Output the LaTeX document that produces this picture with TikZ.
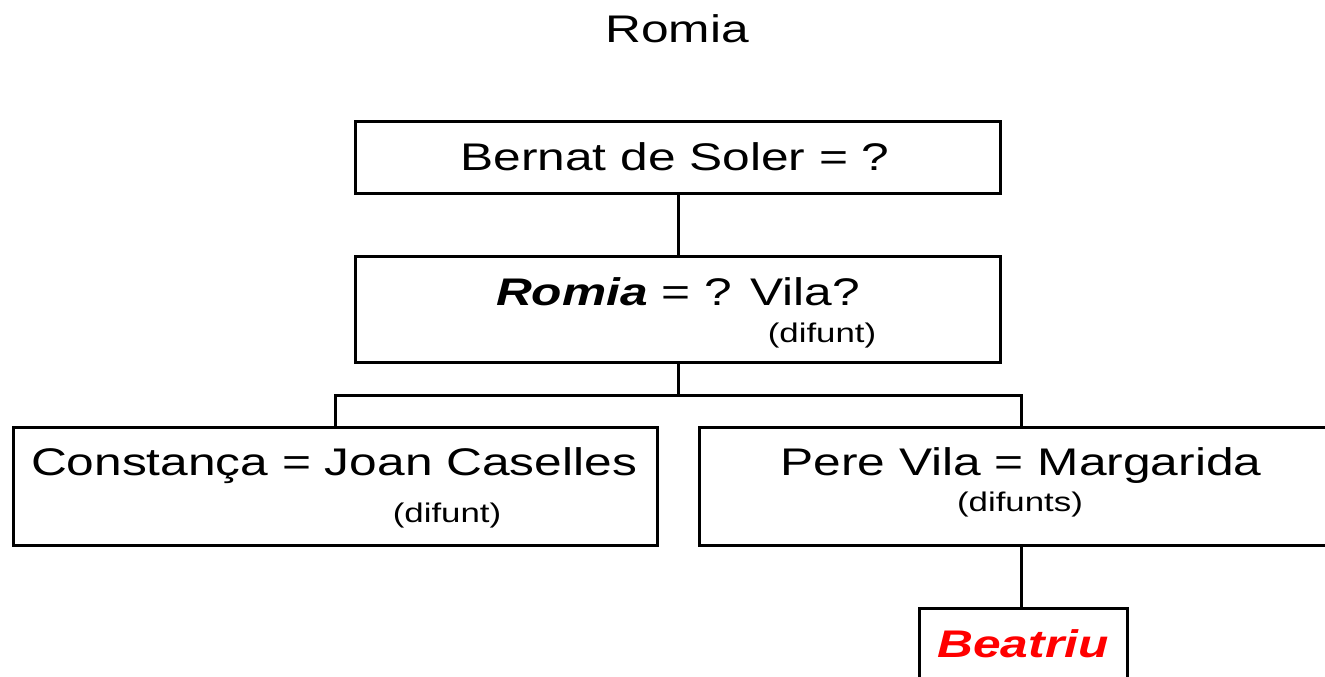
\documentclass[tikz,border=0pt]{standalone}
\usepackage{fontspec}
\setmainfont{Liberation Sans}[FakeStretch=1.29]
\definecolor{namered}{RGB}{255,0,0}
\begin{document}
\begin{tikzpicture}[x=1pt,y=-1pt,
  box/.style={draw=black,line width=3pt,inner sep=0pt,outer sep=0pt,rectangle},
  big/.style={anchor=base,inner sep=0pt,font=\fontsize{38.5}{40}\selectfont},
  small/.style={anchor=base,inner sep=0pt,font=\fontsize{27}{29}\selectfont},
  link/.style={draw=black,line width=3pt}]
\useasboundingbox (0,0) rectangle (1325,677);
\clip (0,0) rectangle (1325,677);
\fill[white] (0,0) rectangle (1325,677);
% boxes
\node[box,minimum width=645pt,minimum height=72pt] (b1) at (678,157) {};
\node[box,minimum width=645pt,minimum height=106pt] (b2) at (678,309) {};
\node[box,minimum width=644pt,minimum height=118pt] (b3) at (335,486) {};
\node[box,minimum width=644pt,minimum height=118pt] (b4) at (1021,486) {};
\node[box,minimum width=208pt,minimum height=82pt] (b5) at (1023,649) {};
% texts
\node[big] (title) at (677,43) {Romia};
\node[big] (t1) at (675,170) {Bernat de Soler = ?};
\node[big] (t2) at (678,305) {\textbf{\textit{Romia}} = ? Vila?};
\node[small] (t2b) at (822,342) {(difunt)};
\node[big] (t3) at (334,475) {Constança = Joan Caselles};
\node[small] (t3b) at (447,522) {(difunt)};
\node[big] (t4) at (1021,475) {Pere Vila = Margarida};
\node[small] (t4b) at (1020,511) {(difunts)};
\node[big,text=namered] (t5) at (1023,657) {\textbf{\textit{Beatriu}}};
% connectors
\coordinate (j) at (678,395);
\draw[link] (b1.south) -- (b2.north);
\draw[link] (b2.south) -- (j);
\draw[link] (b3.north) |- (j) -| (b4.north);
\draw[link] (b4.south) -- (b4.south |- b5.north);
\end{tikzpicture}
\end{document}
